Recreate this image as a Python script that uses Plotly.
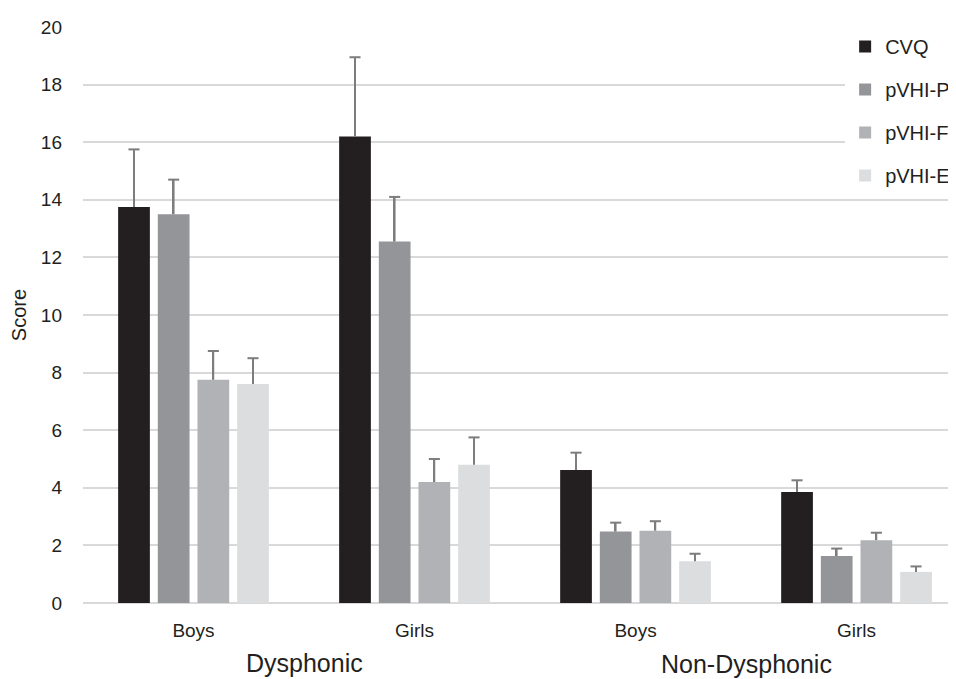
import plotly.graph_objects as go

categories = ["Boys", "Girls", "Boys", "Girls"]
groups = ["Dysphonic", "Non-Dysphonic"]
series = ["CVQ", "pVHI-P", "pVHI-F", "pVHI-E"]
colors = ["#231f20", "#939598", "#b1b2b5", "#dcdddf"]

cvq = [13.75, 16.2, 4.62, 3.85]
cvq_top = [15.75, 18.95, 5.22, 4.26]
pvhi_p = [13.5, 12.55, 2.48, 1.63]
pvhi_p_top = [14.7, 14.1, 2.79, 1.89]
pvhi_f = [7.75, 4.2, 2.51, 2.18]
pvhi_f_top = [8.75, 5.0, 2.84, 2.44]
pvhi_e = [7.6, 4.8, 1.45, 1.08]
pvhi_e_top = [8.5, 5.75, 1.71, 1.27]

values = [cvq, pvhi_p, pvhi_f, pvhi_e]
tops = [cvq_top, pvhi_p_top, pvhi_f_top, pvhi_e_top]

FONT = "Liberation Sans, Arial, Helvetica, sans-serif"
TXT = "#231f20"
ERR = "#7d7d7d"
xpos = list(range(len(categories)))

fig = go.Figure()
for i, name in enumerate(series):
    fig.add_trace(go.Bar(
        x=xpos, y=values[i], name=name, offsetgroup=name, legendgroup=name,
        marker=dict(color=colors[i], line=dict(width=0)),
    ))
for i, name in enumerate(series):
    # error bar stem (upper only), drawn in the same group slot
    fig.add_trace(go.Bar(
        x=xpos, base=values[i], y=[t - v for t, v in zip(tops[i], values[i])],
        offsetgroup=name, legendgroup=name, width=0.008, showlegend=False,
        hoverinfo="skip", marker=dict(color=ERR, line=dict(width=0)),
    ))
    # error bar cap
    fig.add_trace(go.Bar(
        x=xpos, base=[t - 0.035 for t in tops[i]], y=[0.07] * len(tops[i]),
        offsetgroup=name, legendgroup=name, width=0.05, showlegend=False,
        hoverinfo="skip", marker=dict(color=ERR, line=dict(width=0)),
    ))

fig.add_annotation(x=0.5, y=-0.104, xref="x", yref="paper", text=groups[0],
                   yanchor="middle", showarrow=False,
                   font=dict(family=FONT, size=25, color=TXT))
fig.add_annotation(x=2.5, y=-0.106, xref="x", yref="paper", text=groups[1],
                   yanchor="middle", showarrow=False,
                   font=dict(family=FONT, size=25, color=TXT))

fig.update_layout(
    width=948, height=671,
    margin=dict(l=75, r=0, t=19, b=76),
    paper_bgcolor="white", plot_bgcolor="white",
    barmode="group", bargap=0.282, bargroupgap=0.2,
    font=dict(family=FONT, color=TXT),
    showlegend=True,
    legend=dict(x=0.873, xanchor="left", y=1.0, yanchor="top",
                bgcolor="white", font=dict(family=FONT, size=20, color=TXT),
                tracegroupgap=14, itemwidth=30),
    xaxis=dict(tickmode="array", tickvals=xpos, ticktext=categories,
               range=[-0.5, 3.45], showgrid=False, zeroline=False,
               showline=False, ticks="", ticklabelstandoff=14,
               tickfont=dict(family=FONT, size=19, color=TXT)),
    yaxis=dict(range=[0, 20], dtick=2, showgrid=True, gridcolor="#d9d9d9",
               gridwidth=1.5, zeroline=True, zerolinecolor="#d9d9d9", zerolinewidth=2,
               showline=False, ticks="", ticklabelstandoff=20,
               tickfont=dict(family=FONT, size=19, color=TXT),
               title=dict(text="Score", font=dict(family=FONT, size=20, color=TXT),
                          standoff=10)),
)

fig.write_html("out.html")
